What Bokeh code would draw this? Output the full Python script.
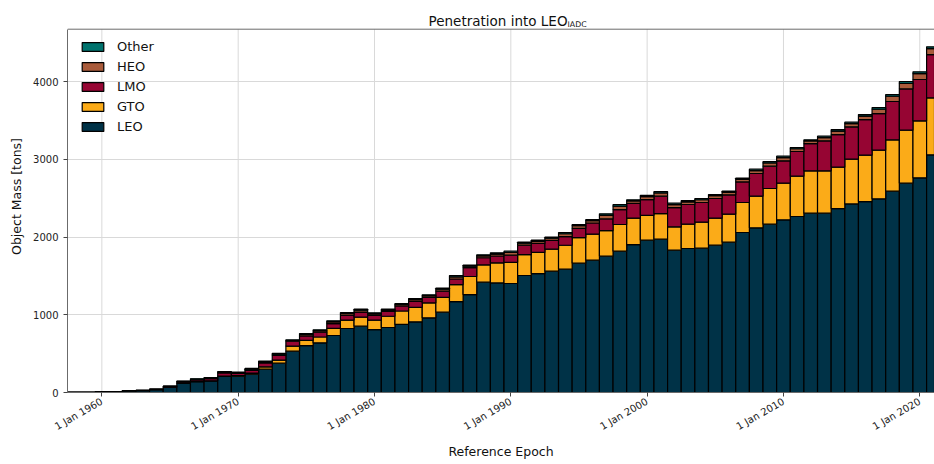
from bokeh.plotting import figure
from bokeh.models import Range1d, FixedTicker, Legend, LegendItem, Label, Span, ColumnDataSource
from bokeh.embed import file_html
from bokeh.resources import INLINE

years = [1958, 1959, 1960, 1961, 1962, 1963, 1964, 1965, 1966, 1967, 1968, 1969,
         1970, 1971, 1972, 1973, 1974, 1975, 1976, 1977, 1978, 1979,
         1980, 1981, 1982, 1983, 1984, 1985, 1986, 1987, 1988, 1989,
         1990, 1991, 1992, 1993, 1994, 1995, 1996, 1997, 1998, 1999,
         2000, 2001, 2002, 2003, 2004, 2005, 2006, 2007, 2008, 2009,
         2010, 2011, 2012, 2013, 2014, 2015, 2016, 2017, 2018, 2019,
         2020, 2021]

leo = [1, 3, 8, 13, 22, 24, 36, 68, 116, 141, 150, 206,
       210, 235, 300, 377, 532, 604, 639, 733, 823, 853,
       810, 836, 875, 909, 960, 1033, 1170, 1260, 1419, 1410,
       1402, 1505, 1530, 1560, 1586, 1663, 1702, 1753, 1818, 1903,
       1959, 1972, 1831, 1852, 1856, 1895, 1933, 2058, 2118, 2165,
       2221, 2264, 2306, 2306, 2366, 2426, 2456, 2491, 2589, 2692,
       2761, 3057]
gto = [0, 0, 0, 0, 0, 0, 0, 0, 0, 0, 0, 5,
       8, 15, 30, 40, 65, 66, 75, 92, 108, 116,
       120, 145, 173, 185, 192, 190, 218, 232, 222, 258,
       272, 268, 272, 283, 308, 330, 335, 330, 343, 340,
       320, 330, 300, 313, 335, 347, 361, 386, 407, 459,
       471, 518, 545, 545, 532, 575, 596, 626, 661, 682,
       733, 733]
lmo = [0, 0, 0, 0, 4, 4, 5, 8, 18, 22, 28, 40,
       28, 35, 50, 60, 62, 58, 62, 62, 65, 65,
       62, 62, 65, 78, 70, 80, 72, 115, 92, 88,
       92, 122, 115, 113, 110, 118, 143, 150, 190, 190,
       203, 223, 248, 253, 253, 253, 248, 265, 292, 287,
       288, 318, 351, 386, 420, 416, 459, 471, 493, 531,
       532, 557]
heo = [0, 0, 0, 0, 0, 0, 2, 5, 8, 8, 10, 12,
       10, 15, 15, 15, 10, 18, 18, 20, 20, 25,
       20, 17, 20, 22, 20, 25, 28, 18, 25, 25,
       35, 25, 28, 28, 38, 35, 30, 45, 47, 30,
       38, 42, 38, 35, 35, 36, 32, 33, 38, 42,
       42, 35, 33, 42, 45, 42, 45, 55, 68, 72,
       75, 75]
other = [0, 0, 0, 0, 0, 0, 0, 0, 4, 5, 5, 7,
         6, 10, 10, 12, 8, 13, 12, 15, 13, 13,
         13, 12, 12, 15, 14, 14, 17, 13, 13, 15,
         17, 13, 14, 14, 16, 15, 15, 20, 20, 15,
         16, 18, 18, 16, 16, 16, 15, 15, 17, 18,
         18, 16, 15, 18, 19, 18, 19, 22, 22, 23,
         23, 24]

series_names = ["LEO", "GTO", "LMO", "HEO", "Other"]
series_colors = ["#003247", "#fbab18", "#960533", "#a95b3b", "#00736e"]

tick_years = [1960, 1970, 1980, 1990, 2000, 2010, 2020]
tick_labels = ["1 Jan 1960", "1 Jan 1970", "1 Jan 1980", "1 Jan 1990",
               "1 Jan 2000", "1 Jan 2010", "1 Jan 2020"]
y_ticks = [0, 1000, 2000, 3000, 4000]

X_START, X_END = 1957.48, 2021.08
Y_TOP = 4673          # top of the axes box
Y_CANVAS = 5042       # frame extended up to the canvas top so the title can be drawn

FONT = "DejaVu Sans"

source = ColumnDataSource(dict(year=years, LEO=leo, GTO=gto, LMO=lmo, HEO=heo, Other=other))

p = figure(width=934, height=464, output_backend="svg", toolbar_location=None,
           x_range=Range1d(X_START, X_END), y_range=Range1d(0, Y_CANVAS),
           min_border_left=67, min_border_right=0, min_border_top=0, min_border_bottom=72)
p.outline_line_color = None
p.background_fill_color = "white"
p.xgrid.grid_line_color = None
p.ygrid.grid_line_color = "#d9d9d9"
p.ygrid.grid_line_width = 1

# vertical grid lines limited to the axes box
p.segment(x0=tick_years, y0=[0] * len(tick_years), x1=tick_years, y1=[Y_TOP] * len(tick_years),
          line_color="#d9d9d9", line_width=1)

renderers = p.vbar_stack(series_names, x="year", width=1.0, color=series_colors,
                         line_color="black", line_width=1.2, source=source)

# top spine
p.add_layout(Span(location=Y_TOP, dimension="width", line_color="#6b6b6b", line_width=1))

# title with subscript
title_x = 1994.16
p.add_layout(Label(x=title_x, y=Y_TOP, text="Penetration into LEO",
                   text_align="right", text_baseline="alphabetic", y_offset=8,
                   text_font=FONT, text_font_size="13.5px", text_color="#111111"))
p.add_layout(Label(x=title_x, y=Y_TOP, text="IADC",
                   text_align="left", text_baseline="alphabetic", y_offset=4.5,
                   text_font=FONT, text_font_size="7.8px", text_color="#111111"))

# axes
p.xaxis.ticker = FixedTicker(ticks=tick_years)
p.xaxis.major_label_overrides = {y: lab for y, lab in zip(tick_years, tick_labels)}
p.xaxis.major_label_orientation = 0.5236
p.yaxis.ticker = FixedTicker(ticks=y_ticks)
p.yaxis.bounds = (0, Y_TOP)
for ax in (p.xaxis, p.yaxis):
    ax.axis_line_color = "#6b6b6b"
    ax.major_tick_line_color = "#444444"
    ax.major_tick_out = 4
    ax.major_tick_in = 0
    ax.minor_tick_line_color = None
    ax.major_label_text_font = FONT
    ax.major_label_text_font_size = "10px"
    ax.major_label_text_color = "#222222"
    ax.axis_label_text_font = FONT
    ax.axis_label_text_font_size = "12.5px"
    ax.axis_label_text_font_style = "normal"
    ax.axis_label_text_color = "#111111"
p.xaxis.axis_label = "Reference Epoch"
p.yaxis.axis_label = "Object Mass [tons]"
p.xaxis.major_label_standoff = 4
p.yaxis.major_label_standoff = 5
p.xaxis.axis_label_standoff = 4
p.yaxis.axis_label_standoff = 6

# legend
items = [LegendItem(label=n, renderers=[r]) for n, r in zip(series_names, renderers)][::-1]
legend = Legend(items=items, location=(12, 258), padding=0, margin=0,
                glyph_width=27, glyph_height=11, label_height=15, spacing=5,
                label_standoff=11, label_text_font=FONT, label_text_font_size="13px",
                label_text_color="#111111", background_fill_alpha=0, border_line_alpha=0)
p.add_layout(legend)

open("out.html", "w").write(file_html(p, INLINE))
